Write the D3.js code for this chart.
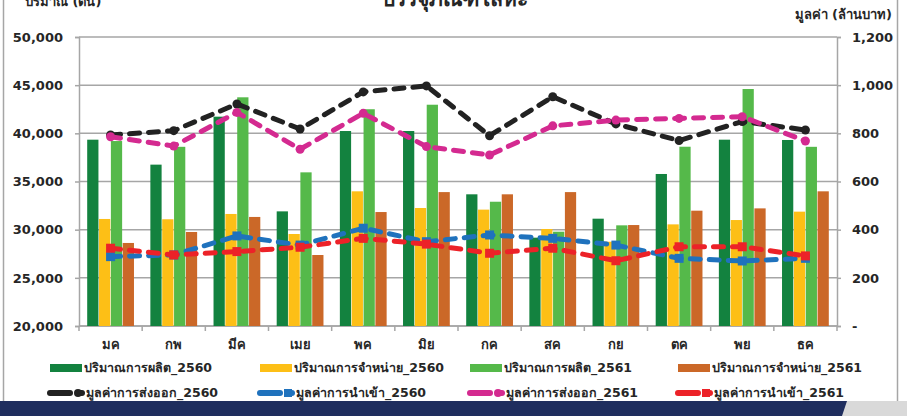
<!DOCTYPE html>
<html>
<head>
<meta charset="utf-8">
<script src="https://cdn.jsdelivr.net/npm/d3@7"></script>
<style>
body { margin: 0; background: #fff; }
svg { display: block; font-family: Tahoma, "DejaVu Sans", "Noto Sans", sans-serif; }
</style>
</head>
<body>
<svg id="chart"></svg>
<script>
var months = ['มค', 'กพ', 'มีค', 'เมย', 'พค', 'มิย', 'กค', 'สค', 'กย', 'ตค', 'พย', 'ธค'];

// bars, tonnes (left axis)
var prod2560 = [39340, 36750, 41730, 31900, 40240, 40240, 33670, 29170, 31140, 35780, 39340, 39310];
var sale2560 = [31110, 31080, 31630, 29550, 33980, 32250, 32080, 30070, 28750, 30550, 31000, 31870];
var prod2561 = [39200, 38600, 43740, 35950, 42500, 42970, 32900, 29790, 30450, 38610, 44600, 38600];
var sale2561 = [28620, 29760, 31320, 27370, 31830, 33900, 33670, 33900, 30480, 31970, 32210, 33980];

// lines, million baht (right axis)
var exp2560 = [793, 811, 922, 818, 972, 997, 790, 952, 839, 770, 849, 814];
var imp2560 = [288, 295, 374, 336, 406, 350, 378, 364, 336, 281, 270, 281];
var exp2561 = [786, 747, 887, 734, 883, 745, 710, 831, 855, 862, 869, 768];
var imp2561 = [323, 295, 309, 327, 364, 340, 302, 323, 271, 329, 329, 291];

var leftTicks = [20000, 25000, 30000, 35000, 40000, 45000, 50000];
var rightTicks = [0, 200, 400, 600, 800, 1000, 1200];

var barSeries = [
  {name: 'ปริมาณการผลิต_2560', values: prod2560, color: '#13823f'},
  {name: 'ปริมาณการจำหน่าย_2560', values: sale2560, color: '#fdbf16'},
  {name: 'ปริมาณการผลิต_2561', values: prod2561, color: '#55b94a'},
  {name: 'ปริมาณการจำหน่าย_2561', values: sale2561, color: '#cb6828'}
];
var lineSeries = [
  {name: 'มูลค่าการส่งออก_2560', values: exp2560, color: '#222222', marker: 'circle'},
  {name: 'มูลค่าการนำเข้า_2560', values: imp2560, color: '#1f72bd', marker: 'square'},
  {name: 'มูลค่าการส่งออก_2561', values: exp2561, color: '#d42a90', marker: 'circle'},
  {name: 'มูลค่าการนำเข้า_2561', values: imp2561, color: '#ec2228', marker: 'square'}
];

var W = 907, H = 416;
var L = 79, R = 837, T = 37, B = 326;

var svg = d3.select('#chart').attr('width', W).attr('height', H);

// frame
svg.append('line').attr('x1', 3.5).attr('x2', 3.5).attr('y1', 0).attr('y2', 401)
  .attr('stroke', '#a6a6a6').attr('stroke-width', 1.5);
svg.append('line').attr('x1', 897.5).attr('x2', 897.5).attr('y1', 0).attr('y2', 401)
  .attr('stroke', '#a6a6a6').attr('stroke-width', 1.5);

var x0 = d3.scaleBand().domain(months).range([L, R]).paddingInner(0.25).paddingOuter(0.125);
var x1 = d3.scaleBand().domain(d3.range(barSeries.length)).range([0, x0.bandwidth()]);
var yL = d3.scaleLinear().domain([20000, 50000]).range([B, T]);
var yR = d3.scaleLinear().domain([0, 1200]).range([B, T]);

// grid
svg.append('g').selectAll('line').data(leftTicks).enter().append('line')
  .attr('x1', L).attr('x2', R)
  .attr('y1', function(d) { return yL(d); }).attr('y2', function(d) { return yL(d); })
  .attr('stroke', '#a6a6a6').attr('stroke-width', 1.5);

// left axis
var axL = svg.append('g').attr('transform', 'translate(' + L + ',0)')
  .call(d3.axisLeft(yL).tickValues(leftTicks).tickSize(4).tickFormat(d3.format(',')));
axL.select('.domain').attr('stroke', '#a6a6a6').attr('stroke-width', 1.5);
axL.selectAll('.tick line').attr('stroke', '#a6a6a6').attr('stroke-width', 1.5);
axL.selectAll('text').attr('x', -16).attr('font-size', 13).attr('font-weight', 'bold')
  .attr('fill', '#262626').attr('font-family', 'Tahoma, "DejaVu Sans", sans-serif');

// right axis
var axR = svg.append('g').attr('transform', 'translate(' + R + ',0)')
  .call(d3.axisRight(yR).tickValues(rightTicks).tickSize(4)
    .tickFormat(function(d) { return d === 0 ? '-' : d3.format(',')(d); }));
axR.select('.domain').attr('stroke', '#a6a6a6').attr('stroke-width', 1.5);
axR.selectAll('.tick line').attr('stroke', '#a6a6a6').attr('stroke-width', 1.5);
axR.selectAll('text').attr('x', 15).attr('font-size', 13).attr('font-weight', 'bold')
  .attr('fill', '#262626').attr('font-family', 'Tahoma, "DejaVu Sans", sans-serif');

// bottom axis
var step = x0.step();
svg.append('line').attr('x1', L).attr('x2', R).attr('y1', B).attr('y2', B)
  .attr('stroke', '#a6a6a6').attr('stroke-width', 1.5);
svg.append('g').selectAll('line').data(d3.range(months.length + 1)).enter().append('line')
  .attr('x1', function(i) { return L + i * step; }).attr('x2', function(i) { return L + i * step; })
  .attr('y1', B).attr('y2', B + 5)
  .attr('stroke', '#a6a6a6').attr('stroke-width', 1.5);
svg.append('g').selectAll('text').data(months).enter().append('text')
  .attr('x', function(d) { return x0(d) + x0.bandwidth() / 2; })
  .attr('y', 349)
  .attr('text-anchor', 'middle').attr('font-size', 13).attr('font-weight', 'bold').attr('fill', '#262626')
  .text(function(d) { return d; });

// bars
var groups = svg.append('g').selectAll('g').data(months).enter().append('g')
  .attr('transform', function(d) { return 'translate(' + x0(d) + ',0)'; });
groups.selectAll('rect').data(function(d, i) {
    return barSeries.map(function(s, k) { return {k: k, v: s.values[i], color: s.color}; });
  }).enter().append('rect')
  .attr('x', function(d) { return x1(d.k) + 0.3; })
  .attr('width', x1.bandwidth() - 0.6)
  .attr('y', function(d) { return yL(d.v); })
  .attr('height', function(d) { return B - yL(d.v); })
  .attr('fill', function(d) { return d.color; });

// lines
var cx = function(i) { return x0(months[i]) + x0.bandwidth() / 2; };
var lineGen = d3.line().x(function(d, i) { return cx(i); }).y(function(d) { return yR(d); });

function drawMarker(g, type, x, y, color, size) {
  if (type === 'circle') {
    g.append('circle').attr('cx', x).attr('cy', y).attr('r', size / 2).attr('fill', color);
  } else {
    g.append('rect').attr('x', x - size / 2).attr('y', y - size / 2)
      .attr('width', size).attr('height', size).attr('fill', color);
  }
}

lineSeries.forEach(function(s) {
  var g = svg.append('g');
  g.append('path').datum(s.values).attr('d', lineGen)
    .attr('fill', 'none').attr('stroke', s.color).attr('stroke-width', 5)
    .attr('stroke-linecap', 'round').attr('stroke-linejoin', 'round')
    .attr('stroke-dasharray', '10,9');
  s.values.forEach(function(v, i) { drawMarker(g, s.marker, cx(i), yR(v), s.color, 9); });
});

// titles (top of the chart is cropped in the source picture)
svg.append('text').attr('x', 455).attr('y', 6).attr('text-anchor', 'middle')
  .attr('font-size', 21).attr('font-weight', 'bold').attr('fill', '#262626')
  .text('บรรจุภัณฑ์โลหะ');
svg.append('text').attr('x', 25).attr('y', 6)
  .attr('font-size', 13).attr('font-weight', 'bold').attr('fill', '#262626')
  .text('ปริมาณ (ตัน)');
svg.append('text').attr('x', 892).attr('y', 19).attr('text-anchor', 'end')
  .attr('font-size', 13).attr('font-weight', 'bold').attr('fill', '#262626')
  .text('มูลค่า (ล้านบาท)');

// legend
var legX = [50, 260, 470, 678];
var legend = svg.append('g').attr('font-size', 12.5).attr('font-weight', 'bold').attr('fill', '#262626');
barSeries.forEach(function(s, k) {
  legend.append('rect').attr('x', legX[k]).attr('y', 364).attr('width', 32).attr('height', 8).attr('fill', s.color);
  legend.append('text').attr('x', legX[k] + 34).attr('y', 372).text(s.name);
});
lineSeries.forEach(function(s, k) {
  var lx = legX[k] - 2;
  legend.append('line').attr('x1', lx + 2).attr('x2', lx + 22).attr('y1', 393).attr('y2', 393)
    .attr('stroke', s.color).attr('stroke-width', 6).attr('stroke-linecap', 'round');
  drawMarker(legend, s.marker, lx + 30, 393, s.color, 8);
  legend.append('line').attr('x1', lx + 30).attr('x2', lx + 34).attr('y1', 393).attr('y2', 393)
    .attr('stroke', s.color).attr('stroke-width', 6).attr('stroke-linecap', 'round');
  legend.append('text').attr('x', lx + 38).attr('y', 397).text(s.name);
});

// page footer band
svg.append('rect').attr('x', 0).attr('y', 401).attr('width', W).attr('height', 15).attr('fill', '#1f2e5e');
svg.append('path').attr('d', 'M847,401 L907,401 L907,416 L842,416 Z').attr('fill', '#d9d9d9');
</script>
</body>
</html>
